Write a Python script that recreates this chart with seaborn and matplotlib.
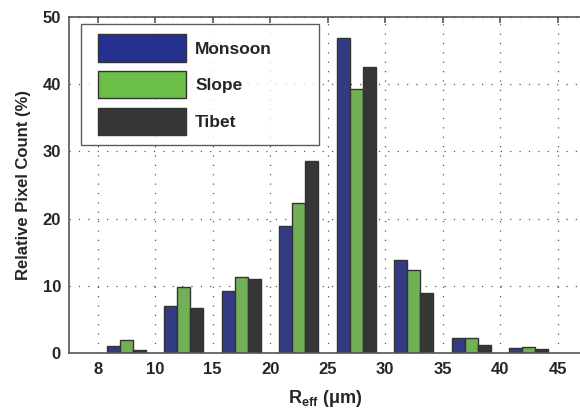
import matplotlib
matplotlib.use("Agg")
import matplotlib.pyplot as plt
from matplotlib.patches import Patch, Rectangle
from matplotlib.legend_handler import HandlerPatch
import seaborn as sns
import pandas as pd

# bins (group centres between the tick labels)
bins = ["8-10", "10-15", "15-20", "20-25", "25-30", "30-35", "35-40", "40-45"]
tick_labels = ["8", "10", "15", "20", "25", "30", "35", "40", "45"]
regions = ["Monsoon", "Slope", "Tibet"]

monsoon = [1.1, 7.0, 9.3, 18.9, 46.9, 13.8, 2.2, 0.8]
slope = [1.9, 9.8, 11.3, 22.3, 39.2, 12.4, 2.2, 0.9]
tibet = [0.5, 6.7, 11.0, 28.5, 42.5, 9.0, 1.3, 0.7]

colors = {"Monsoon": "#26318f", "Slope": "#6cbf46", "Tibet": "#363636"}

df = pd.DataFrame({
    "bin": bins * 3,
    "region": ["Monsoon"] * 8 + ["Slope"] * 8 + ["Tibet"] * 8,
    "value": monsoon + slope + tibet,
})

sns.set_style("white")
plt.rcParams["font.family"] = ["Liberation Sans", "DejaVu Sans"]
plt.rcParams["font.weight"] = "bold"
plt.rcParams["mathtext.fontset"] = "custom"
plt.rcParams["mathtext.rm"] = "Liberation Sans:bold"
plt.rcParams["mathtext.bf"] = "Liberation Sans:bold"

fig = plt.figure(figsize=(5.8, 4.12), dpi=100)
ax = fig.add_axes([0.1195, 0.1425, 0.8805, 0.817])

sns.barplot(data=df, x="bin", y="value", hue="region", palette=colors,
            width=0.68, gap=0, edgecolor="#333333", linewidth=1.0,
            legend=False, ax=ax)

ax.set_xticks([i - 0.5 for i in range(len(tick_labels))])
ax.set_xticklabels(tick_labels)
ax.set_xlim(-0.994, 7.89)
ax.set_ylim(0, 50)
ax.set_yticks([0, 10, 20, 30, 40, 50])

ax.grid(True, linestyle=(0, (1, 6.5)), color="#555555", linewidth=0.9)
ax.set_axisbelow(True)
ax.tick_params(direction="in", top=True, length=4, width=1.2,
               labelsize=12, color="#555555", pad=6)
for s in ["left", "bottom", "top"]:
    ax.spines[s].set_color("#555555")
    ax.spines[s].set_linewidth(1.2)
ax.spines["right"].set_visible(False)

ax.set_xlabel(r"R$_{\rm eff}$ (μm)", fontsize=13, fontweight="bold", labelpad=8)
ax.set_ylabel("Relative Pixel Count (%)", fontsize=12, fontweight="bold", labelpad=8)


def offset_patch(legend, orig_handle, xdescent, ydescent, width, height, fontsize):
    off = 5.5
    return Rectangle((-xdescent + off, -ydescent), width - off, height)


handles = [Patch(facecolor=colors[r], edgecolor="#333333", linewidth=1.0, label=r)
           for r in regions]
leg = ax.legend(handles=handles, loc="upper left",
                bbox_to_anchor=(0.022, 0.621, 0.466, 0.356), mode="expand",
                fontsize=12.5, handlelength=5.5, handleheight=2.02, labelspacing=0.55,
                handletextpad=0.52, borderpad=0.58, borderaxespad=0,
                fancybox=False, frameon=True, edgecolor="#333333",
                handler_map={Patch: HandlerPatch(patch_func=offset_patch)})
leg.get_frame().set_linewidth(1.0)

fig.savefig("out.png", dpi=100)
